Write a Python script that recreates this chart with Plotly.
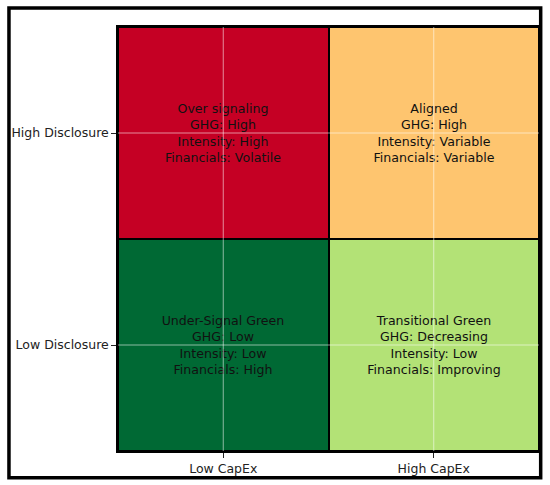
import plotly.graph_objects as go

# quadrant matrix: CapEx (x) vs disclosure (y)
capex_labels = ["Low CapEx", "High CapEx"]
disclosure_labels = ["Low Disclosure", "High Disclosure"]

# colour class of each cell, rows bottom -> top
cell_class = [[3, 2],
              [0, 1]]

cell_text = [
    ["Under-Signal Green<br>GHG: Low<br>Intensity: Low<br>Financials: High",
     "Transitional Green<br>GHG: Decreasing<br>Intensity: Low<br>Financials: Improving"],
    ["Over signaling<br>GHG: High<br>Intensity: High<br>Financials: Volatile",
     "Aligned<br>GHG: High<br>Intensity: Variable<br>Financials: Variable"],
]

class_colors = ["#c50024", "#fec56f", "#b3e276", "#006934"]

colorscale = []
n = len(class_colors)
for i, c in enumerate(class_colors):
    colorscale.append([i / n, c])
    colorscale.append([(i + 1) / n, c])

fig = go.Figure(go.Heatmap(
    x=capex_labels,
    y=disclosure_labels,
    z=cell_class,
    zmin=-0.5,
    zmax=n - 0.5,
    colorscale=colorscale,
    showscale=False,
    text=cell_text,
    texttemplate="%{text}",
    textfont=dict(family="DejaVu Sans", size=12.6, color="#111111"),
    xgap=2,
    ygap=2,
    hoverinfo="skip",
))

# white grid lines through the category centres (matplotlib style, drawn on top)
for lab in capex_labels:
    fig.add_shape(type="line", xref="x", yref="paper", x0=lab, x1=lab, y0=0, y1=1,
                  line=dict(color="rgba(255,255,255,0.55)", width=1), layer="above")
for lab in disclosure_labels:
    fig.add_shape(type="line", xref="paper", yref="y", x0=0, x1=1, y0=lab, y1=lab,
                  line=dict(color="rgba(255,255,255,0.55)", width=1), layer="above")

# outer frame around the whole figure
fig.add_shape(type="rect", xref="paper", yref="paper",
              x0=-0.259, x1=1.004, y0=-0.063, y1=1.045,
              line=dict(color="black", width=3.5), layer="above")

axis_common = dict(
    showline=True, mirror=True, linecolor="black", linewidth=1.5,
    ticks="outside", ticklen=5, tickcolor="#222222", tickwidth=1,
    showgrid=False, zeroline=False,
    tickfont=dict(family="DejaVu Sans", size=12.5, color="#222222"),
)

fig.update_layout(
    width=550,
    height=485,
    margin=dict(l=118, r=9, t=27, b=32),
    paper_bgcolor="white",
    plot_bgcolor="black",
    xaxis=dict(**axis_common),
    yaxis=dict(**axis_common),
)

# page body has a default 8px margin; drop it so the figure sits at the window origin
fig.write_html("out.html", config={"displayModeBar": False},
               post_script="document.body.style.margin='0';")
